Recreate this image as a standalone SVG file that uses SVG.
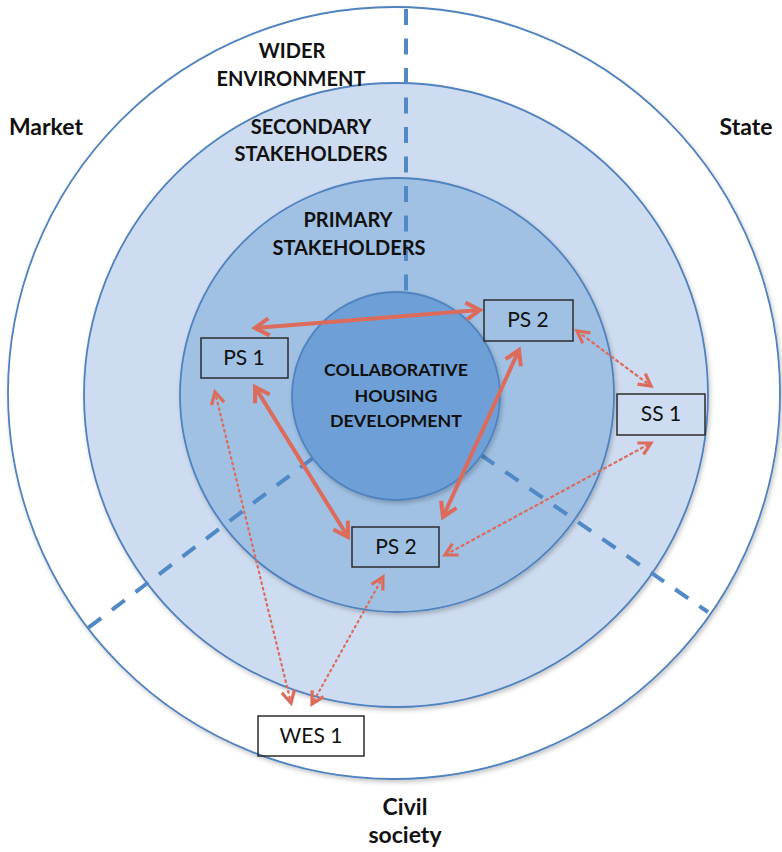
<svg xmlns="http://www.w3.org/2000/svg" width="782" height="852" viewBox="0 0 782 852">
  <style>
    .ring { stroke: #5082be; stroke-width: 1.8; }
    .sector { fill: none; stroke: #5089c6; stroke-width: 4; stroke-dasharray: 16 13.5; }
    .lbl { font-family: Lato, "Open Sans", "Liberation Sans", sans-serif; font-weight: bold; font-size: 20px; fill: #111; text-anchor: middle; }
    .side { font-size: 23px; }
    .core { font-family: Lato, "Open Sans", "Liberation Sans", sans-serif; font-weight: bold; font-size: 17.8px; fill: #111; text-anchor: middle; }
    .box rect { fill: none; stroke: #2b2b2b; stroke-width: 1.5; }
    .box text { font-family: Lato, "Open Sans", "Liberation Sans", sans-serif; font-size: 21px; fill: #111; text-anchor: middle; }
    .link { fill: none; stroke: #dd6b5b; }
    .strong { stroke-width: 4; marker-start: url(#headBold); marker-end: url(#headBold); }
    .dashed { stroke-width: 2.2; stroke-dasharray: 4 2; marker-start: url(#headThin); marker-end: url(#headThin); }
    .dotted { stroke-width: 2.2; stroke-dasharray: 1.6 4; stroke-linecap: round; marker-start: url(#headThin); marker-end: url(#headThin); }
  </style>
  <defs>
    <filter id="shade" x="-10%" y="-10%" width="120%" height="120%">
      <feDropShadow dx="1.5" dy="2.5" stdDeviation="2" flood-color="#000" flood-opacity="0.22"/>
    </filter>
    <marker id="headBold" markerUnits="userSpaceOnUse" markerWidth="30" markerHeight="30" refX="0" refY="0" viewBox="-15 -15 30 30" orient="auto-start-reverse" overflow="visible">
      <path d="M-14,-8.5 L0,0 L-14,8.5" fill="none" stroke="#dd6b5b" stroke-width="4" stroke-linejoin="miter"/>
    </marker>
    <marker id="headThin" markerUnits="userSpaceOnUse" markerWidth="30" markerHeight="30" refX="0" refY="0" viewBox="-15 -15 30 30" orient="auto-start-reverse" overflow="visible">
      <path d="M-12,-6.5 L0,0 L-12,6.5" fill="none" stroke="#dd6b5b" stroke-width="3.2" stroke-linejoin="miter"/>
    </marker>
  </defs>

  <rect width="782" height="852" fill="#ffffff"/>

  <!-- concentric spheres -->
  <g id="wider-environment">
    <circle class="ring" cx="394" cy="393" r="386" fill="#ffffff" filter="url(#shade)"/>
  </g>
  <g id="secondary-stakeholders">
    <circle class="ring" cx="396" cy="395" r="312" fill="#cddcf0" filter="url(#shade)"/>
  </g>
  <g id="primary-stakeholders">
    <circle class="ring" cx="397" cy="395" r="217" fill="#a0c1e4" filter="url(#shade)"/>
  </g>

  <!-- sector dividers: market / state / civil society -->
  <g id="sectors">
    <line class="sector" x1="406" y1="9" x2="406" y2="294"/>
    <line class="sector" x1="313" y1="458" x2="88" y2="628"/>
    <line class="sector" x1="481" y1="455" x2="708" y2="612"/>
  </g>

  <g id="core">
    <circle class="ring" cx="396" cy="396" r="104" fill="#6ea0d7" filter="url(#shade)"/>
    <text class="core" x="396" y="376">COLLABORATIVE</text>
    <text class="core" x="396" y="402">HOUSING</text>
    <text class="core" x="396" y="427">DEVELOPMENT</text>
  </g>

  <!-- relationships -->
  <g id="connectors">
    <path class="link strong" d="M255,328 L480,310"/>
    <path class="link strong" d="M255,387 L348,537"/>
    <path class="link strong" d="M519,350 L443,517"/>
    <path class="link dashed" d="M577,331 L651,386"/>
    <path class="link dashed" d="M445,555 L651,443"/>
    <path class="link dotted" d="M215,392 L291,703"/>
    <path class="link dotted" d="M383,577 L312,704"/>
  </g>

  <!-- ring and sector labels -->
  <g id="labels">
    <text class="lbl" x="292" y="58">WIDER</text>
    <text class="lbl" x="291" y="86">ENVIRONMENT</text>
    <text class="lbl" x="311" y="134">SECONDARY</text>
    <text class="lbl" x="311" y="161">STAKEHOLDERS</text>
    <text class="lbl" x="348" y="227">PRIMARY</text>
    <text class="lbl" x="349" y="255">STAKEHOLDERS</text>
    <text class="lbl side" x="46" y="135">Market</text>
    <text class="lbl side" x="746" y="135">State</text>
    <text class="lbl side" x="405" y="815">Civil</text>
    <text class="lbl side" x="405" y="843">society</text>
  </g>

  <!-- stakeholders -->
  <g id="ps1" class="box">
    <rect x="201" y="338" width="87" height="40"/>
    <text x="244" y="365">PS 1</text>
  </g>
  <g id="ps2-upper" class="box">
    <rect x="484" y="300" width="89" height="41"/>
    <text x="528" y="327">PS 2</text>
  </g>
  <g id="ps2-lower" class="box">
    <rect x="352" y="527" width="87" height="40"/>
    <text x="396" y="554">PS 2</text>
  </g>
  <g id="ss1" class="box">
    <rect x="617" y="394" width="88" height="41"/>
    <text x="661" y="421">SS 1</text>
  </g>
  <g id="wes1" class="box">
    <rect x="258" y="716" width="106" height="40"/>
    <text x="311" y="743">WES 1</text>
  </g>
</svg>
